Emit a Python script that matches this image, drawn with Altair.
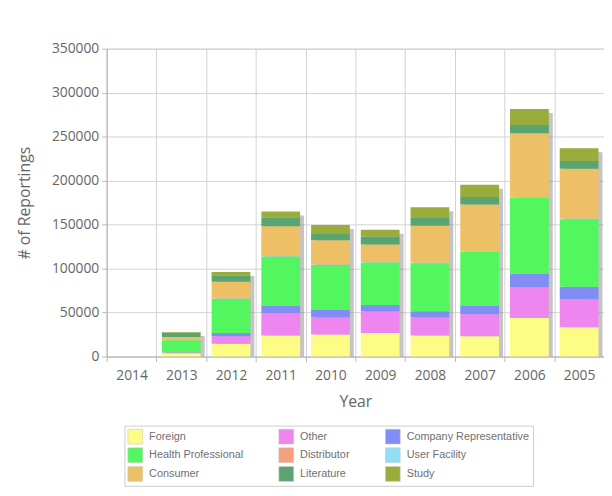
import altair as alt
import pandas as pd

years = ["2014", "2013", "2012", "2011", "2010", "2009", "2008", "2007", "2006", "2005"]
sources = ["Foreign", "Other", "Company Representative",
           "Health Professional", "Distributor", "User Facility",
           "Consumer", "Literature", "Study"]
colors = ["#fdfc84", "#ef86ef", "#7f8df4", "#52f760", "#f7a07c",
          "#8fdff5", "#eec065", "#5aa472", "#9aad3c"]
# legend columns are filled top to bottom, so list them column by column
legend_order = ["Foreign", "Health Professional", "Consumer",
                "Other", "Distributor", "Literature",
                "Company Representative", "User Facility", "Study"]

foreign = [0, 3800, 14600, 24000, 25000, 26900, 23900, 23200, 43700, 33300]
other = [0, 700, 8600, 25400, 19400, 24300, 20600, 25000, 35100, 31800]
company = [0, 400, 3700, 8200, 8600, 7500, 7100, 9300, 15300, 14200]
health = [0, 13600, 38900, 56100, 51200, 48200, 54600, 61700, 86000, 76700]
distributor = [0, 50, 200, 300, 300, 300, 300, 300, 400, 400]
user_facility = [0, 50, 200, 300, 300, 300, 300, 300, 400, 400]
consumer = [0, 3600, 18700, 33700, 27300, 19800, 41900, 53100, 72900, 56800]
literature = [0, 5200, 7500, 10100, 8200, 9300, 9700, 8600, 9300, 8600]
study = [0, 500, 3700, 6700, 9300, 7500, 11200, 13800, 18300, 14600]

series = [foreign, other, company, health, distributor, user_facility,
          consumer, literature, study]
y_ticks = [0, 50000, 100000, 150000, 200000, 250000, 300000, 350000]

color_of = dict(zip(sources, colors))
legend_colors = [color_of[s] for s in legend_order]

rows = []
for i, (name, vals) in enumerate(zip(sources, series)):
    for yr, v in zip(years, vals):
        rows.append({"year": yr, "source": name, "idx": i, "value": v})
df = pd.DataFrame(rows)

x_enc = alt.X(
    "year:N", sort=years,
    scale=alt.Scale(paddingInner=0, paddingOuter=0),
    axis=alt.Axis(title="Year", labelAngle=0, grid=True, tickBand="extent",
                  labelPadding=7, titlePadding=12, tickSize=5),
)
y_axis = alt.Axis(title="# of Reportings", values=y_ticks, format="d",
                  tickSize=5, labelPadding=3, titlePadding=19)
y_scale = alt.Scale(domain=[0, 350000], nice=False)

base = alt.Chart(df)

shadow = base.transform_aggregate(
    total="sum(value)", groupby=["year"]
).mark_bar(
    color="#8a8a8a", opacity=0.5, xOffset=4, yOffset=4, clip=True,
    width=alt.RelativeBandSize(0.78),
).encode(
    x=x_enc,
    y=alt.Y("total:Q", scale=y_scale, axis=y_axis),
)

bars = base.mark_bar(width=alt.RelativeBandSize(0.78)).encode(
    x=x_enc,
    y=alt.Y("value:Q", stack=True, scale=y_scale, axis=y_axis),
    color=alt.Color(
        "source:N",
        scale=alt.Scale(domain=legend_order, range=legend_colors),
        legend=alt.Legend(
            title=None, orient="none", legendX=18, legendY=382,
            columns=3, columnPadding=34, rowPadding=1, padding=3,
            strokeColor="#cccccc", fillColor="#ffffff",
            symbolType="square", symbolSize=225, symbolOpacity=1,
            symbolStrokeColor="#c8c8c8", symbolStrokeWidth=0.6,
            labelFont="Liberation Sans", labelFontSize=11,
            labelColor="#707070", labelOffset=6,
        ),
    ),
    order=alt.Order("idx:Q"),
)

chart = alt.layer(shadow, bars).properties(
    width=504, height=312,
    autosize=alt.AutoSizeParams(type="none"),
    padding={"left": 100, "top": 38, "right": 0, "bottom": 130},
    background="#ffffff",
).configure_view(
    stroke="#cfcfcf", strokeWidth=1
).configure_axis(
    labelFont="Open Sans", labelFontSize=14, labelColor="#666666",
    titleFont="Open Sans", titleFontSize=16, titleColor="#666666",
    titleFontWeight="normal",
    gridColor="#d2d2d2", domainColor="#b8b8b8", tickColor="#b8b8b8",
)

chart.save("out.html", embed_options={"renderer": "svg", "actions": False})
